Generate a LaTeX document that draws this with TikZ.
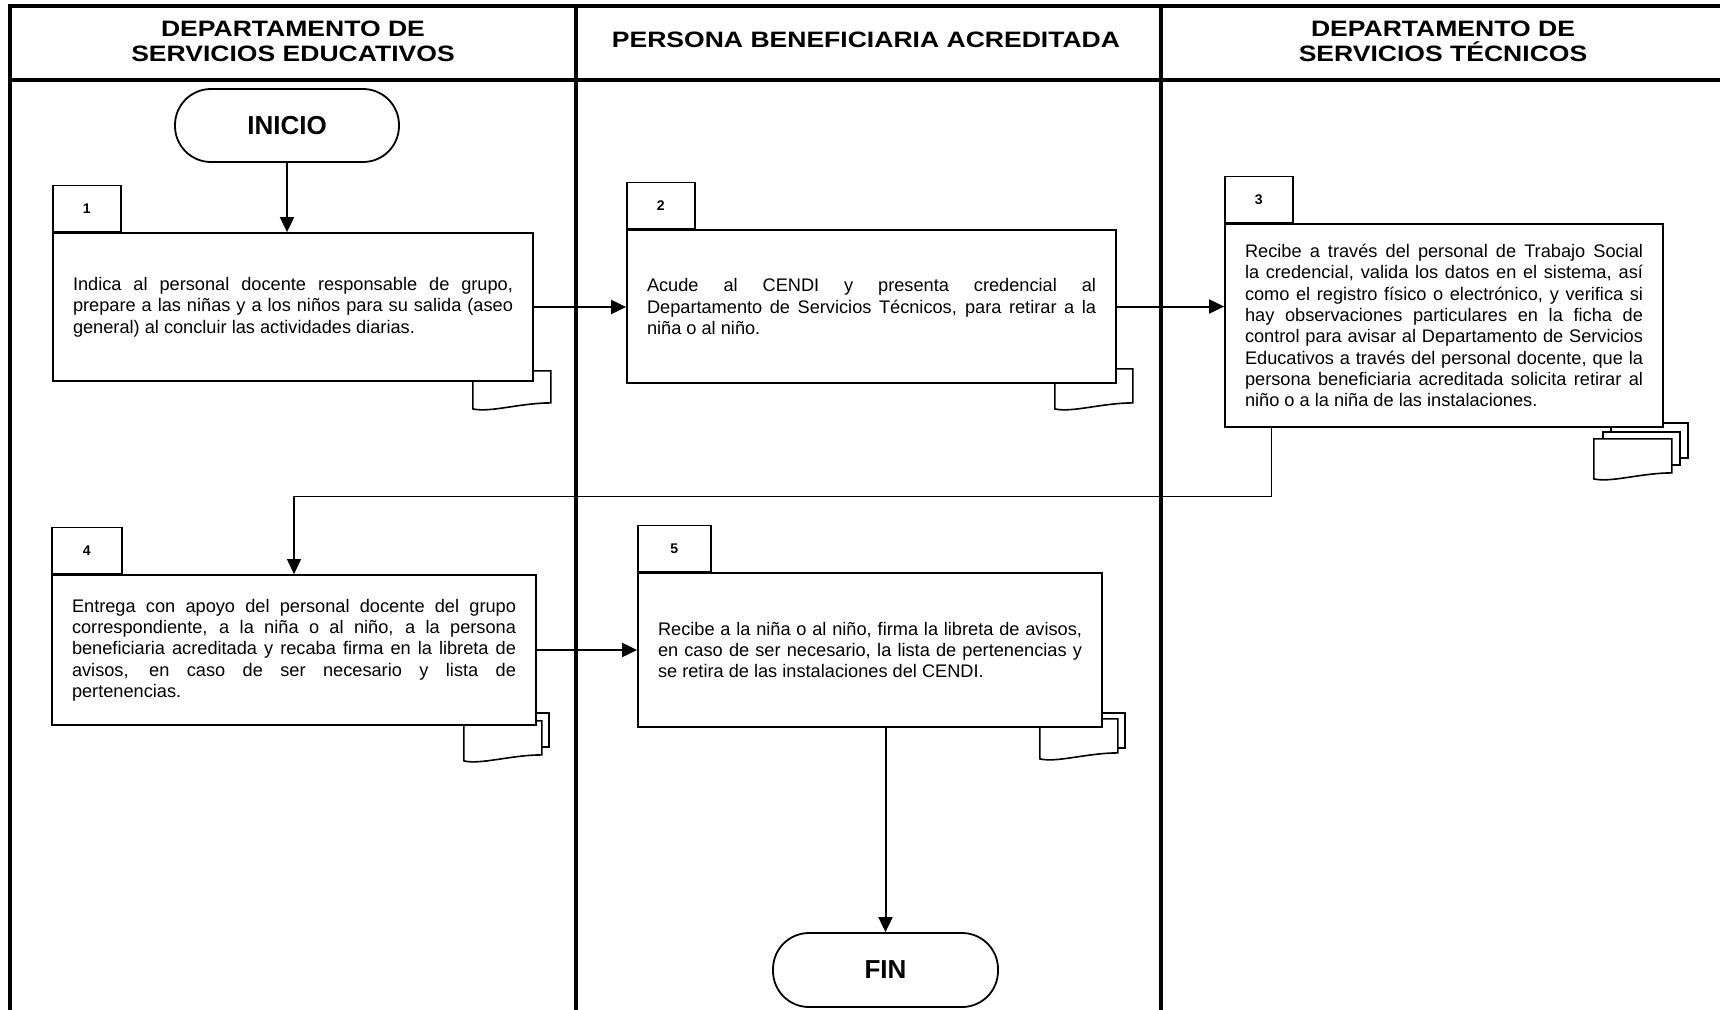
\documentclass[tikz,border=0pt]{standalone}
\usepackage{fontspec}
\setmainfont{Liberation Sans}
\newfontfamily\lanefont{Liberation Sans}[FakeStretch=1.19]
\usetikzlibrary{arrows.meta,calc,backgrounds}
\pgfdeclarelayer{sheets}
\pgfsetlayers{background,sheets,main}

% sheet of paper with a wavy lower edge: anchor, offset, height of the left side
\newcommand\pagesheet[3]{%
  \filldraw[sheet] ($(#1)+(#2)$) -- ++(78,0) -- ++(0,#3-6)
    .. controls +(-31,0) and +(17,4) .. ++(-78,6) -- cycle;}
% plain sheet lying behind the front one
\newcommand\backsheet[3]{%
  \filldraw[sheet] ($(#1)+(#2)$) rectangle ++(77,#3);}

\tikzset{
  frameline/.style={line width=3.2pt},
  stepbox/.style={draw, line width=1.8pt, fill=white, rectangle, inner sep=0pt,
    align=justify, font=\fontsize{18.2}{21.3}\selectfont},
  numtab/.style={draw, line width=1.5pt, fill=white, minimum height=46pt,
    inner sep=0pt, anchor=south west, font=\fontsize{14}{16}\selectfont\bfseries},
  terminal/.style={draw, line width=1.8pt, fill=white, rounded corners=36pt,
    minimum width=224pt, minimum height=73pt, font=\fontsize{26}{30}\selectfont\bfseries},
  lanehead/.style={align=center, inner sep=0pt,
    font=\lanefont\fontsize{22.3}{24.7}\selectfont\bfseries},
  flow/.style={line width=2pt, -{Triangle[length=15pt,width=14pt]}},
  flowthin/.style={line width=1.1pt, -{Triangle[length=15pt,width=14pt]}},
  sheet/.style={draw, line width=1.6pt, fill=white},
}

\begin{document}
\begin{tikzpicture}[x=1pt, y=-1pt]
\tolerance=10000 \hbadness=10000 \hyphenpenalty=10000
\clip (0,0) rectangle (1720,1009);
\begin{pgfonlayer}{background}
  \fill[white] (0,0) rectangle (1720,1009);
\end{pgfonlayer}

% swimlane frame
\draw[frameline] (10,1015) -- (10,6) -- (1725,6);
\draw[frameline] (10,80) -- (1725,80);
\draw[frameline] (576,6) -- (576,1015);
\draw[frameline] (1161,6) -- (1161,1015);

% lane headings
\node[lanehead] (h1) at (293,41) {DEPARTAMENTO DE\\SERVICIOS EDUCATIVOS};
\node[lanehead] (h2) at (866,40) {PERSONA BENEFICIARIA ACREDITADA};
\node[lanehead] (h3) at (1443,41) {DEPARTAMENTO DE\\SERVICIOS TÉCNICOS};

% terminals
\node[terminal] (inicio) at (287,125.5) {INICIO};
\node[terminal, minimum width=225pt, minimum height=74pt] (fin) at (885.5,970) {FIN};

% activity boxes
\node[stepbox, text width=440pt, minimum width=480pt, minimum height=148pt] (b1) at (293,307)
  {Indica al personal docente responsable de grupo,\linebreak
   prepare a las niñas y a los niños para su salida (aseo\linebreak
   general) al concluir las actividades diarias.};
\node[stepbox, text width=449pt, minimum width=489pt, minimum height=153pt] (b2) at (871.5,306.5)
  {Acude al CENDI y presenta credencial al\linebreak
   Departamento de Servicios Técnicos, para retirar a la\linebreak
   niña o al niño.};
\node[stepbox, text width=398pt, minimum width=438pt, minimum height=203pt] (b3) at (1444,325.5)
  {Recibe a través del personal de Trabajo Social\linebreak
   la credencial, valida los datos en el sistema, así\linebreak
   como el registro físico o electrónico, y verifica si\linebreak
   hay observaciones particulares en la ficha de\linebreak
   control para avisar al Departamento de Servicios\linebreak
   Educativos a través del personal docente, que la\linebreak
   persona beneficiaria acreditada solicita retirar al\linebreak
   niño o a la niña de las instalaciones.};
\node[stepbox, text width=444pt, minimum width=484pt, minimum height=150pt] (b4) at (294,650)
  {Entrega con apoyo del personal docente del grupo\linebreak
   correspondiente, a la niña o al niño, a la persona\linebreak
   beneficiaria acreditada y recaba firma en la libreta de\linebreak
   avisos, en caso de ser necesario y lista de\linebreak
   pertenencias.};
\node[stepbox, text width=424pt, minimum width=464pt, minimum height=154pt] (b5) at (870,650)
  {Recibe a la niña o al niño, firma la libreta de avisos,\linebreak
   en caso de ser necesario, la lista de pertenencias y\linebreak
   se retira de las instalaciones del CENDI.};

% number tabs
\node[numtab, minimum width=68pt] (t1) at (b1.north west) {1};
\node[numtab, minimum width=68pt] (t2) at (b2.north west) {2};
\node[numtab, minimum width=68pt] (t3) at (b3.north west) {3};
\node[numtab, minimum width=70pt] (t4) at (b4.north west) {4};
\node[numtab, minimum width=73pt] (t5) at (b5.north west) {5};

% document symbols behind the boxes
\begin{pgfonlayer}{sheets}
  \pagesheet{b1.south east}{-61,-11}{38}
  \pagesheet{b2.south east}{-62,-15}{40}
  \backsheet{b3.south east}{-53,-5}{35}
  \backsheet{b3.south east}{-61,4}{33}
  \pagesheet{b3.south east}{-70,11}{40}
  \backsheet{b4.south east}{-65,-13}{34}
  \pagesheet{b4.south east}{-73,-5}{40}
  \backsheet{b5.south east}{-55,-15}{35}
  \pagesheet{b5.south east}{-63,-9}{40}
\end{pgfonlayer}

% flow connectors
\draw[flow] (inicio) -- (inicio |- b1.north);
\draw[flow] (b1.east) -- (b1.east -| b2.west);
\draw[flow] (b2.east) -- (b2.east -| b3.west);
\coordinate (k3) at ($(b3.south west)+(47,0)$);
\draw[flowthin] (k3) |- ($(b4.north)+(0,-78)$) -- (b4.north);
\draw[flow] (b4.east) -- (b4.east -| b5.west);
\draw[flow] (fin.north |- b5.south) -- (fin.north);
\end{tikzpicture}
\end{document}
